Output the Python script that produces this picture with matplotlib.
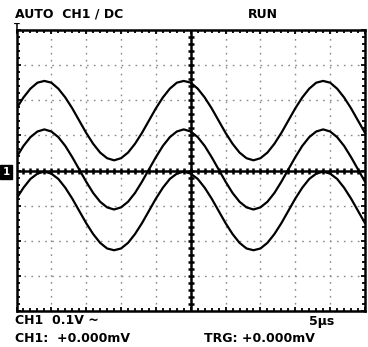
import numpy as np
import matplotlib
matplotlib.use("Agg")
import matplotlib.pyplot as plt

# time axis in screen divisions (0..10), 0.2 div steps
x_div = [round(0.2 * i, 1) for i in range(51)]

trace_top = [1.77, 2.08, 2.33, 2.50, 2.55, 2.50, 2.33, 2.08, 1.77, 1.42,
             1.07, 0.76, 0.51, 0.35, 0.29, 0.35, 0.51, 0.76, 1.07, 1.42,
             1.77, 2.08, 2.33, 2.50, 2.55, 2.50, 2.33, 2.08, 1.77, 1.42,
             1.07, 0.76, 0.51, 0.35, 0.29, 0.35, 0.51, 0.76, 1.07, 1.42,
             1.77, 2.08, 2.33, 2.50, 2.55, 2.50, 2.33, 2.08, 1.77, 1.42,
             1.07]
trace_mid = [0.38, 0.70, 0.95, 1.11, 1.17, 1.11, 0.95, 0.70, 0.38, 0.03,
             -0.32, -0.64, -0.89, -1.05, -1.11, -1.05, -0.89, -0.64, -0.32, 0.03,
             0.38, 0.70, 0.95, 1.11, 1.17, 1.11, 0.95, 0.70, 0.38, 0.03,
             -0.32, -0.64, -0.89, -1.05, -1.11, -1.05, -0.89, -0.64, -0.32, 0.03,
             0.38, 0.70, 0.95, 1.11, 1.17, 1.11, 0.95, 0.70, 0.38, 0.03,
             -0.32]
trace_bot = [-0.80, -0.49, -0.24, -0.09, -0.03, -0.09, -0.24, -0.49, -0.80, -1.15,
             -1.50, -1.81, -2.06, -2.22, -2.27, -2.22, -2.06, -1.81, -1.50, -1.15,
             -0.80, -0.49, -0.24, -0.09, -0.03, -0.09, -0.24, -0.49, -0.80, -1.15,
             -1.50, -1.81, -2.06, -2.22, -2.27, -2.22, -2.06, -1.81, -1.50, -1.15,
             -0.80, -0.49, -0.24, -0.09, -0.03, -0.09, -0.24, -0.49, -0.80, -1.15,
             -1.50]

top_left_label = "AUTO  CH1 / DC"
top_right_label = "RUN"
bottom_labels = ["CH1  0.1V ~", "5\u00b5s", "CH1:  +0.000mV", "TRG: +0.000mV"]

fig = plt.figure(figsize=(3.68, 3.47), dpi=100)
fig.patch.set_facecolor("white")
ax = fig.add_axes([16.5 / 368, 36 / 347, 348.5 / 368, 281 / 347])
ax.set_xlim(0, 10)
ax.set_ylim(-4, 4)

# grid dotted
for gx in range(1, 10):
    if gx != 5:
        ax.axvline(gx, color="#8a8a8a", lw=1.0, ls=(0, (1.2, 3.8)), zorder=1)
for gy in range(-3, 4):
    if gy != 0:
        ax.axhline(gy, color="#8a8a8a", lw=1.0, ls=(0, (1.2, 3.8)), zorder=1)

# center cross with ticks
ax.axhline(0, color="black", lw=1.8, zorder=2)
ax.axvline(5, color="black", lw=1.8, zorder=2)
tx = np.arange(0.2, 10, 0.2)
ty = np.arange(-3.8, 4, 0.2)
ax.plot(tx, np.zeros_like(tx), ls="none", marker="|", ms=5, mew=1.8, color="black", zorder=2)
ax.plot(np.full_like(ty, 5.0), ty, ls="none", marker="_", ms=5, mew=1.8, color="black", zorder=2)

# traces
for tr in (trace_top, trace_mid, trace_bot):
    ax.plot(x_div, tr, color="black", lw=1.6, zorder=3, solid_capstyle="round")

# border ticks
ax.set_xticks(range(0, 11))
ax.set_yticks(range(-4, 5))
ax.set_xticks(np.arange(0, 10.01, 0.2), minor=True)
ax.set_yticks(np.arange(-4, 4.01, 0.2), minor=True)
ax.tick_params(which="both", direction="in", top=True, right=True, labelbottom=False,
               labelleft=False, width=1.3, color="black")
ax.tick_params(which="major", length=3)
ax.tick_params(which="minor", length=2.5)
for s in ax.spines.values():
    s.set_linewidth(1.8)
    s.set_color("black")

fp = dict(family="DejaVu Sans", fontweight="bold", fontsize=9.0, color="black")
fig.text(15 / 368, 1 - 14 / 347, top_left_label, va="center", ha="left", **fp)
fig.text(248 / 368, 1 - 14 / 347, top_right_label, va="center", ha="left", **fp)
fig.text(15 / 368, 1 - 321 / 347, bottom_labels[0], va="center", ha="left", **fp)
fig.text(334 / 368, 1 - 321 / 347, bottom_labels[1], va="center", ha="right", **fp)
fig.text(15 / 368, 1 - 339 / 347, bottom_labels[2], va="center", ha="left", **fp)
fig.text(204 / 368, 1 - 339 / 347, bottom_labels[3], va="center", ha="left", **fp)

# trigger position marker
fig.text(17 / 368, 1 - 27 / 347, "T", va="center", ha="center", color="black",
         fontweight="bold", fontsize=6)

# channel marker "1"
fig.text(6 / 368, 1 - 172 / 347, "1", va="center", ha="center", color="white",
         fontweight="bold", fontsize=7.5,
         bbox=dict(boxstyle="square,pad=0.2", fc="black", ec="black"))

fig.savefig("out.png", dpi=100, facecolor="white")
